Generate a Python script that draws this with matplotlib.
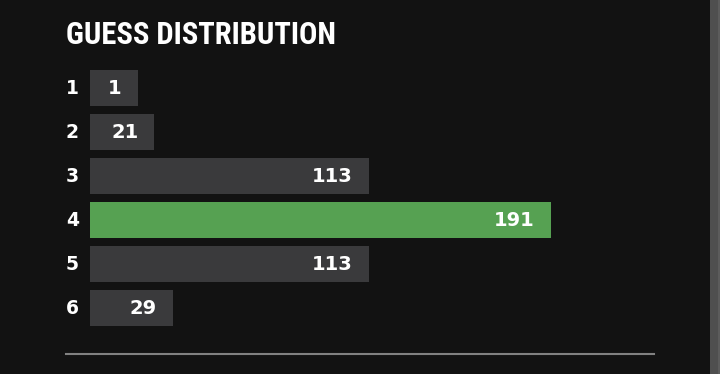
import numpy as np
import matplotlib
matplotlib.use("Agg")
import matplotlib.pyplot as plt
from matplotlib.lines import Line2D
from matplotlib.patches import Rectangle

# guess distribution data
guesses = ["1", "2", "3", "4", "5", "6"]
counts = [1, 21, 113, 191, 113, 29]
highlight = "4"

bg = "#121212"
bar_grey = "#3a3a3c"
bar_green = "#56a152"

W, H = 720, 374
fig = plt.figure(figsize=(W / 100, H / 100), dpi=100, facecolor=bg)

# axes: left edge of bars at 90px, rows 44px apart starting at 66px
px_per_unit = 2.333
ax_l, ax_r = 90, 654
ax_top, ax_bot = 66, 330
ax = fig.add_axes([ax_l / W, 1 - ax_bot / H, (ax_r - ax_l) / W, (ax_bot - ax_top) / H])
ax.set_facecolor(bg)
ax.set_xlim(0, (ax_r - ax_l) / px_per_unit)
ax.set_ylim(len(guesses) - 0.5, -0.5)

# bar length = count + a bit of padding, with a minimum width
vals = np.array(counts, dtype=float)
widths = np.maximum(vals + 6.6, 20.5)
y = np.arange(len(guesses))
colors = [bar_green if g == highlight else bar_grey for g in guesses]
ax.barh(y, widths, height=36 / 44, color=colors, left=0)

pad = 16 / px_per_unit
for yi, w, c in zip(y, widths, counts):
    ax.text(w - pad, yi + 0.02, str(c), ha="right", va="center", color="white",
            fontsize=14, fontweight="bold", family="DejaVu Sans")

ax.set_yticks(y)
ax.set_yticklabels(guesses, color="white", fontsize=13.5, fontweight="bold",
                   va="center")
ax.tick_params(axis="y", length=0, pad=8)
ax.set_xticks([])
for s in ax.spines.values():
    s.set_visible(False)

fig.text(66 / W, 1 - 44 / H, "GUESS DISTRIBUTION", color="white", fontsize=22,
         fontweight="bold", family=["Roboto Condensed", "DejaVu Sans"],
         ha="left", va="baseline")

# separator line
fig.add_artist(Line2D([66 / W, 654 / W], [1 - 354 / H, 1 - 354 / H],
                      color="#818181", linewidth=1.5))

# scrollbar strip on the right edge
fig.add_artist(Rectangle((710 / W, 0), 8 / W, 1, transform=fig.transFigure,
                         color="#4f4f4f", linewidth=0))
fig.add_artist(Rectangle((718 / W, 0), 2 / W, 1, transform=fig.transFigure,
                         color="#5c5c5c", linewidth=0))

fig.savefig("out.png", dpi=100, facecolor=bg)
